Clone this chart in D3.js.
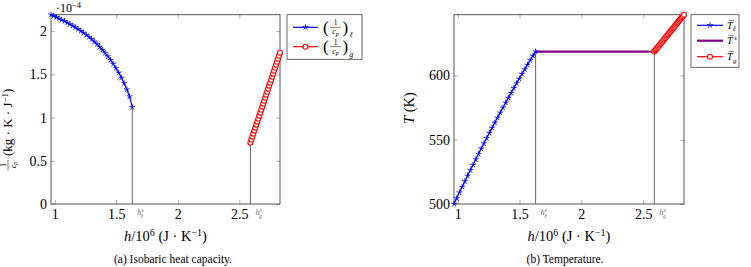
<!DOCTYPE html>
<html>
<head>
<meta charset="utf-8">
<script src="https://cdn.jsdelivr.net/npm/d3@7"></script>
<style>
  body { margin: 0; background: #fff; }
  svg text { font-family: "Liberation Serif", "DejaVu Serif", serif; fill: #000; }
</style>
</head>
<body>
<svg id="fig" width="751" height="267"></svg>
<script>
// enthalpy samples (h / 1e6)
var hLiq = [0.970, 0.992, 1.014, 1.036, 1.058, 1.080, 1.102, 1.124, 1.146, 1.168, 1.190,
            1.212, 1.234, 1.256, 1.278, 1.300, 1.322, 1.344, 1.366, 1.388, 1.410,
            1.432, 1.454, 1.476, 1.498, 1.520, 1.542, 1.564, 1.586, 1.608, 1.630];
var hGas = [2.590, 2.598, 2.606, 2.614, 2.622, 2.630, 2.638, 2.646, 2.654, 2.662, 2.670,
            2.678, 2.686, 2.694, 2.702, 2.710, 2.718, 2.726, 2.734, 2.742, 2.750,
            2.758, 2.766, 2.774, 2.782, 2.790, 2.798, 2.806, 2.814, 2.822, 2.830];

// 1/cp (x 1e-4)
var invCpLiq = [2.190, 2.175, 2.160, 2.145, 2.130, 2.114, 2.097, 2.080, 2.062, 2.043, 2.023,
                2.002, 1.980, 1.957, 1.932, 1.906, 1.878, 1.848, 1.816, 1.782, 1.746,
                1.707, 1.665, 1.620, 1.571, 1.518, 1.460, 1.396, 1.324, 1.244, 1.120];
var invCpGas = [0.710, 0.745, 0.779, 0.814, 0.849, 0.883, 0.918, 0.953, 0.987, 1.022, 1.057,
                1.091, 1.126, 1.161, 1.195, 1.230, 1.265, 1.299, 1.334, 1.369, 1.403,
                1.438, 1.473, 1.507, 1.542, 1.577, 1.611, 1.646, 1.681, 1.715, 1.750];

// temperature (K)
var tLiq = [500.0, 504.4, 508.9, 513.2, 517.6, 521.9, 526.2, 530.4, 534.6, 538.8, 543.0,
            547.1, 551.2, 555.2, 559.2, 563.2, 567.1, 571.0, 574.9, 578.7, 582.5,
            586.3, 590.1, 593.8, 597.4, 601.1, 604.7, 608.2, 611.8, 615.3, 618.5];
var tGas = [618.5, 619.5, 620.4, 621.4, 622.3, 623.3, 624.2, 625.2, 626.2, 627.1, 628.1,
            629.0, 630.0, 630.9, 631.9, 632.9, 633.8, 634.8, 635.7, 636.7, 637.6,
            638.6, 639.6, 640.5, 641.5, 642.4, 643.4, 644.3, 645.3, 646.2, 647.2];
var tSat = 618.5;
var hSatLiq = 1.63, hSatGas = 2.59;

var hTicks = [1, 1.5, 2, 2.5];
var cpTicks = [0, 0.5, 1, 1.5, 2];
var tTicks = [500, 550, 600];
var hDomain = [0.97, 2.83];
var cpDomain = [0, 2.19];
var tDomain = [500, 647.2];

var svg = d3.select("#fig");

function starPath(r) {
  var p = "";
  for (var k = 0; k < 5; k++) {
    var a = (-90 + 72 * k) * Math.PI / 180;
    p += "M0,0L" + (r * Math.cos(a)).toFixed(2) + "," + (r * Math.sin(a)).toFixed(2);
  }
  return p;
}

function drawStars(g, pts, x, y) {
  g.selectAll(null).data(pts).enter().append("path")
    .attr("d", starPath(3))
    .attr("transform", d => "translate(" + x(d[0]) + "," + y(d[1]) + ")")
    .attr("stroke", "#0000ff").attr("stroke-width", 0.9).attr("fill", "none");
}

function drawCircles(g, pts, x, y) {
  g.selectAll(null).data(pts).enter().append("circle")
    .attr("cx", d => x(d[0])).attr("cy", d => y(d[1])).attr("r", 2.5)
    .attr("stroke", "#ff0000").attr("stroke-width", 1.1).attr("fill", "#fff");
}

function satLabel(g, px, py, sub) {
  var t = g.append("text").attr("x", px).attr("y", py)
    .style("font-size", "8.5px").style("fill", "#777");
  t.append("tspan").style("font-style", "italic").text("h");
  t.append("tspan").attr("dy", -3).style("font-size", "6px").text("s");
  t.append("tspan").attr("dx", -3).attr("dy", 6).style("font-size", "6px")
    .style("font-style", "italic").text(sub);
}

function makePanel(cfg) {
  var g = svg.append("g");
  var x = d3.scaleLinear().domain(hDomain).range([cfg.left, cfg.right]);
  var y = d3.scaleLinear().domain(cfg.yDomain).range([cfg.bottom, cfg.top]);

  // ticks on all four sides, pointing inward
  var axes = [
    [d3.axisBottom(x).tickValues(hTicks).tickFormat(d => d), "translate(0," + cfg.bottom + ")"],
    [d3.axisTop(x).tickValues(hTicks).tickFormat(""), "translate(0," + cfg.top + ")"],
    [d3.axisLeft(y).tickValues(cfg.yTicks).tickFormat(d => d), "translate(" + cfg.left + ",0)"],
    [d3.axisRight(y).tickValues(cfg.yTicks).tickFormat(""), "translate(" + cfg.right + ",0)"]
  ];
  axes.forEach(function(a, i) {
    var ax = g.append("g").attr("transform", a[1])
      .call(a[0].tickSize(-4).tickPadding(i == 0 ? 5 : 4));
    ax.select(".domain").remove();
    ax.selectAll("line").attr("stroke", "#999").attr("stroke-width", 0.8);
    ax.selectAll("text").style("font-size", "14px")
      .style("font-family", "'Liberation Serif', serif").attr("fill", "#000");
  });

  g.append("rect")
    .attr("x", cfg.left).attr("y", cfg.top)
    .attr("width", cfg.right - cfg.left).attr("height", cfg.bottom - cfg.top)
    .attr("fill", "none").attr("stroke", "#444").attr("stroke-width", 0.9);

  // saturation verticals
  [[hSatLiq, cfg.liqEnd, "\u2113"], [hSatGas, cfg.gasStart, "g"]].forEach(function(v) {
    g.append("line")
      .attr("x1", x(v[0])).attr("x2", x(v[0]))
      .attr("y1", cfg.bottom).attr("y2", y(v[1]))
      .attr("stroke", "#666").attr("stroke-width", 1);
    satLabel(g, x(v[0]) + 5, 215, v[2]);
  });

  // x label
  var xl = g.append("text").attr("x", (cfg.left + cfg.right) / 2).attr("y", 241)
    .attr("text-anchor", "middle").style("font-size", "14.5px");
  xl.append("tspan").style("font-style", "italic").text("h");
  xl.append("tspan").text("/10");
  xl.append("tspan").attr("dy", -5).style("font-size", "10px").text("6");
  xl.append("tspan").attr("dy", 5).text(" (J \u00b7 K");
  xl.append("tspan").attr("dy", -5).style("font-size", "10px").text("\u22121");
  xl.append("tspan").attr("dy", 5).text(")");

  g.append("text").attr("x", cfg.captionX).attr("y", 263)
    .attr("text-anchor", "middle").style("font-size", "11.5px").text(cfg.caption);

  return {g: g, x: x, y: y};
}

// ---------- (a) isobaric heat capacity ----------
var pa = makePanel({
  left: 51, right: 280, top: 14.7, bottom: 204,
  yDomain: cpDomain, yTicks: cpTicks,
  liqEnd: invCpLiq[invCpLiq.length - 1], gasStart: invCpGas[0],
  caption: "(a) Isobaric heat capacity.", captionX: 173
});
var liqA = hLiq.map((h, i) => [h, invCpLiq[i]]);
var gasA = hGas.map((h, i) => [h, invCpGas[i]]);
var lineA = d3.line().x(d => pa.x(d[0])).y(d => pa.y(d[1]));
pa.g.append("path").attr("d", lineA(liqA)).attr("fill", "none")
  .attr("stroke", "#0000ff").attr("stroke-width", 1.2);
drawStars(pa.g, liqA, pa.x, pa.y);
pa.g.append("path").attr("d", lineA(gasA)).attr("fill", "none")
  .attr("stroke", "#ff0000").attr("stroke-width", 1.2);
drawCircles(pa.g, gasA, pa.x, pa.y);

// scale factor
var sf = svg.append("text").attr("x", 56).attr("y", 11.5).style("font-size", "12px");
sf.append("tspan").text("\u00b710");
sf.append("tspan").attr("dy", -4).style("font-size", "8.5px").text("\u22124");

// rotated y label with fraction
var yl = svg.append("g").attr("transform", "translate(12,112) rotate(-90)");
yl.append("text").attr("x", -53).attr("y", -6.5).attr("text-anchor", "middle")
  .style("font-size", "8px").text("1");
yl.append("line").attr("x1", -58.5).attr("x2", -47.5).attr("y1", -4).attr("y2", -4)
  .attr("stroke", "#000").attr("stroke-width", 0.5);
var den = yl.append("text").attr("x", -53).attr("y", 3.5).attr("text-anchor", "middle")
  .style("font-size", "8px");
den.append("tspan").style("font-style", "italic").text("c");
den.append("tspan").attr("dy", 1.5).style("font-size", "6px").style("font-style", "italic").text("p");
var ylt = yl.append("text").attr("x", -44).attr("y", 0).style("font-size", "13px");
ylt.append("tspan").text("(kg \u00b7 K \u00b7 J");
ylt.append("tspan").attr("dy", -4.5).style("font-size", "9px").text("\u22121");
ylt.append("tspan").attr("dy", 4.5).text(")");

// legend (a)
function fracLabel(g, lx, ly, sub) {
  g.append("text").attr("x", lx).attr("y", ly + 5.5).style("font-size", "17px").text("(");
  g.append("text").attr("x", lx + 12.5).attr("y", ly - 2).attr("text-anchor", "middle")
    .style("font-size", "7.5px").text("1");
  g.append("line").attr("x1", lx + 7).attr("x2", lx + 18).attr("y1", ly).attr("y2", ly)
    .attr("stroke", "#000").attr("stroke-width", 0.5);
  var d = g.append("text").attr("x", lx + 12.5).attr("y", ly + 7).attr("text-anchor", "middle")
    .style("font-size", "8px");
  d.append("tspan").style("font-style", "italic").text("c");
  d.append("tspan").attr("dy", 1.5).style("font-size", "6px").style("font-style", "italic").text("p");
  g.append("text").attr("x", lx + 19.5).attr("y", ly + 5.5).style("font-size", "17px").text(")");
  g.append("text").attr("x", lx + 26.5).attr("y", ly + 10).style("font-size", "7.5px")
    .style("font-style", "italic").text(sub);
}
var lgA = svg.append("g");
lgA.append("rect").attr("x", 287).attr("y", 14.7).attr("width", 75).attr("height", 44.6)
  .attr("fill", "#fff").attr("stroke", "#444").attr("stroke-width", 0.8);
lgA.append("line").attr("x1", 293).attr("x2", 318).attr("y1", 27.3).attr("y2", 27.3)
  .attr("stroke", "#0000ff").attr("stroke-width", 1.2);
drawStars(lgA, [[305.5, 27.3]], d => d, d => d);
lgA.append("line").attr("x1", 293).attr("x2", 318).attr("y1", 46.7).attr("y2", 46.7)
  .attr("stroke", "#ff0000").attr("stroke-width", 1.2);
drawCircles(lgA, [[305.5, 46.7]], d => d, d => d);
fracLabel(lgA, 323, 27.3, "\u2113");
fracLabel(lgA, 323, 46.7, "g");

// ---------- (b) temperature ----------
var pb = makePanel({
  left: 454, right: 684, top: 14.7, bottom: 204,
  yDomain: tDomain, yTicks: tTicks,
  liqEnd: tSat, gasStart: tSat,
  caption: "(b) Temperature.", captionX: 565
});
var liqB = hLiq.map((h, i) => [h, tLiq[i]]);
var gasB = hGas.map((h, i) => [h, tGas[i]]);
var lineB = d3.line().x(d => pb.x(d[0])).y(d => pb.y(d[1]));
pb.g.append("path").attr("d", lineB([[hSatLiq, tSat], [hSatGas, tSat]])).attr("fill", "none")
  .attr("stroke", "#800080").attr("stroke-width", 2.2);
pb.g.append("path").attr("d", lineB(liqB)).attr("fill", "none")
  .attr("stroke", "#0000ff").attr("stroke-width", 1.2);
drawStars(pb.g, liqB, pb.x, pb.y);
pb.g.append("path").attr("d", lineB(gasB)).attr("fill", "none")
  .attr("stroke", "#ff0000").attr("stroke-width", 1.2);
drawCircles(pb.g, gasB, pb.x, pb.y);

var tl = svg.append("text").attr("transform", "translate(414,108) rotate(-90)")
  .attr("text-anchor", "middle").style("font-size", "14.5px");
tl.append("tspan").style("font-style", "italic").text("T");
tl.append("tspan").text(" (K)");

// legend (b)
function tbarLabel(g, lx, ly, sub, sup) {
  g.append("text").attr("x", lx).attr("y", ly + 3.5).style("font-size", "10px")
    .style("font-style", "italic").text("T");
  g.append("line").attr("x1", lx + 1.5).attr("x2", lx + 7).attr("y1", ly - 5).attr("y2", ly - 5)
    .attr("stroke", "#000").attr("stroke-width", 0.5);
  if (sub) g.append("text").attr("x", lx + 6).attr("y", ly + 6).style("font-size", "7px")
    .style("font-style", "italic").text(sub);
  if (sup) g.append("text").attr("x", lx + 7).attr("y", ly - 0.5).style("font-size", "7px")
    .style("font-style", "italic").text(sup);
}
var lgB = svg.append("g");
lgB.append("rect").attr("x", 691).attr("y", 14.7).attr("width", 48).attr("height", 52.6)
  .attr("fill", "#fff").attr("stroke", "#444").attr("stroke-width", 0.8);
lgB.append("line").attr("x1", 697).attr("x2", 723).attr("y1", 25.3).attr("y2", 25.3)
  .attr("stroke", "#0000ff").attr("stroke-width", 1.2);
drawStars(lgB, [[710, 25.3]], d => d, d => d);
lgB.append("line").attr("x1", 697).attr("x2", 723).attr("y1", 40.7).attr("y2", 40.7)
  .attr("stroke", "#800080").attr("stroke-width", 2.2);
lgB.append("line").attr("x1", 697).attr("x2", 723).attr("y1", 56.7).attr("y2", 56.7)
  .attr("stroke", "#ff0000").attr("stroke-width", 1.2);
drawCircles(lgB, [[710, 56.7]], d => d, d => d);
tbarLabel(lgB, 727, 25.3, "\u2113", null);
tbarLabel(lgB, 727, 40.7, null, "s");
tbarLabel(lgB, 727, 56.7, "g", null);
</script>
</body>
</html>
